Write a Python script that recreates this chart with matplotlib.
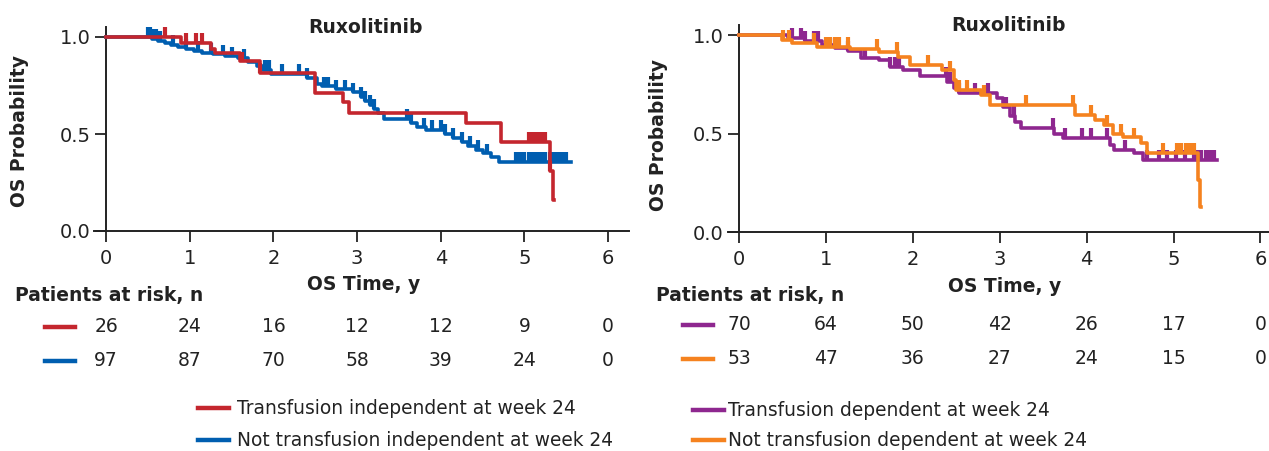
import numpy as np
import matplotlib
matplotlib.use("Agg")
import matplotlib.pyplot as plt
from matplotlib.lines import Line2D
from matplotlib import transforms

W, H = 1269, 451

RED = "#c4262e"
BLUE = "#005eb0"
PURPLE = "#8e278f"
ORANGE = "#f5821f"
INK = "#222222"

# ---- left panel: transfusion independent vs not (Kaplan-Meier steps) ----
red_t = [0, 0.90, 1.25, 1.30, 1.60, 1.84, 2.50, 2.83, 2.90, 4.30, 4.72, 5.30, 5.34]
red_s = [1.0, 0.97, 0.94, 0.915, 0.875, 0.815, 0.713, 0.667, 0.61, 0.558, 0.46, 0.31, 0.16]
red_end = 5.35
red_cens = [0.70, 0.95, 1.07, 1.15, 1.62, 1.84, 5.05, 5.10, 5.15, 5.20, 5.25, 5.30]

blue_t = [0, 0.55, 0.62, 0.70, 0.78, 0.86, 0.95, 1.05, 1.15, 1.28, 1.42, 1.58, 1.70,
          1.80, 1.88, 1.97, 2.40, 2.52, 2.58, 2.75, 2.95, 3.05, 3.10, 3.15, 3.20,
          3.25, 3.32, 3.64, 3.72, 3.82, 4.05, 4.15, 4.25, 4.33, 4.42, 4.50, 4.60, 4.70]
blue_s = [1.0, 0.99, 0.98, 0.97, 0.96, 0.95, 0.94, 0.93, 0.92, 0.91, 0.90, 0.89, 0.87,
          0.85, 0.83, 0.81, 0.79, 0.76, 0.745, 0.73, 0.715, 0.69, 0.67, 0.65, 0.63,
          0.61, 0.578, 0.555, 0.535, 0.52, 0.50, 0.48, 0.46, 0.44, 0.42, 0.40, 0.38, 0.357]
blue_end = 5.55
blue_cens = [0.50, 0.53, 0.57, 0.60, 0.65, 0.80, 0.95, 1.10, 1.25, 1.40, 1.50, 1.65,
             1.90, 1.95, 2.10, 2.30, 2.40, 2.60, 2.65, 2.75, 2.85, 2.95, 3.05, 3.10,
             3.15, 3.20, 3.60, 3.65, 3.80, 3.90, 4.00, 4.05, 4.15, 4.25, 4.35, 4.45,
             4.55, 4.90, 4.95, 5.00, 5.05, 5.10, 5.15, 5.20, 5.25, 5.30, 5.35, 5.40,
             5.45, 5.50]

# ---- right panel: transfusion dependent vs not ----
purple_t = [0, 0.56, 0.76, 0.96, 1.10, 1.25, 1.40, 1.61, 1.74, 1.89, 2.08, 2.39, 2.47,
            2.53, 2.97, 3.04, 3.12, 3.18, 3.24, 3.62, 3.73, 4.27, 4.32, 4.54, 4.65]
purple_s = [1.0, 0.985, 0.97, 0.95, 0.935, 0.92, 0.885, 0.873, 0.84, 0.82, 0.79, 0.76,
            0.73, 0.705, 0.68, 0.635, 0.59, 0.56, 0.53, 0.50, 0.477, 0.44, 0.415,
            0.40, 0.365]
purple_end = 5.50
purple_cens = [0.61, 0.71, 0.76, 0.86, 0.91, 1.10, 1.25, 1.45, 1.74, 1.79, 1.84, 2.38,
               2.43, 2.53, 2.72, 2.87, 3.07, 3.16, 3.61, 3.75, 3.95, 4.05, 4.24, 4.44,
               4.69, 4.83, 4.93, 5.03, 5.13, 5.23, 5.27, 5.32, 5.37, 5.42, 5.47]

orange_t = [0, 0.50, 0.61, 0.90, 1.28, 1.61, 1.83, 1.97, 2.34, 2.47, 2.50, 2.79, 2.89,
            3.87, 4.10, 4.20, 4.30, 4.42, 4.62, 4.70, 5.28, 5.31]
orange_s = [1.0, 0.975, 0.96, 0.94, 0.93, 0.915, 0.89, 0.85, 0.82, 0.77, 0.72, 0.695,
            0.645, 0.594, 0.57, 0.543, 0.50, 0.48, 0.45, 0.40, 0.264, 0.127]
orange_end = 5.32
orange_cens = [0.51, 0.58, 0.86, 1.00, 1.05, 1.10, 1.15, 1.25, 1.59, 1.82, 2.18, 2.43,
               2.53, 2.62, 2.82, 3.30, 3.84, 4.05, 4.24, 4.39, 4.54, 4.88, 5.04, 5.09,
               5.14, 5.19, 5.24]

# ---- numbers at risk ----
risk_years = [0, 1, 2, 3, 4, 5, 6]
risk_red = [26, 24, 16, 12, 12, 9, 0]
risk_blue = [97, 87, 70, 58, 39, 24, 0]
risk_purple = [70, 64, 50, 42, 26, 17, 0]
risk_orange = [53, 47, 36, 27, 24, 15, 0]

label_red = "Transfusion independent at week 24"
label_blue = "Not transfusion independent at week 24"
label_purple = "Transfusion dependent at week 24"
label_orange = "Not transfusion dependent at week 24"


def fx(x):
    return x / W


def fy(y):
    # pixel row (from top) -> figure fraction
    return 1 - y / H


def km(ax, times, surv, end, cens, color, z):
    t = list(times) + [end]
    s = list(surv) + [surv[-1]]
    ax.step(t, s, where="post", color=color, lw=2.6, zorder=z)
    idx = np.searchsorted(times, cens, side="right") - 1
    lv = np.asarray(surv)[idx]
    ax.vlines(cens, lv, lv + 0.05, colors=color, lw=3.0, zorder=z)


def setup(ax, xmin, xmax):
    ax.set_xlim(xmin, xmax)
    ax.set_ylim(0, 1.05)
    ax.patch.set_visible(False)
    for sp in ("top", "right"):
        ax.spines[sp].set_visible(False)
    ax.spines["left"].set_position(("data", 0))
    for sp in ("left", "bottom"):
        ax.spines[sp].set_linewidth(1.4)
        ax.spines[sp].set_color(INK)
    ax.set_xticks(risk_years)
    ax.set_yticks([0, 0.5, 1.0])
    ax.set_yticklabels(["0.0", "0.5", "1.0"])
    ax.tick_params(axis="both", direction="out", length=8, width=1.3,
                   color=INK, labelcolor=INK, labelsize=14)
    ax.tick_params(axis="x", pad=5)
    ax.tick_params(axis="y", pad=3)
    ax.text(3.1, 1.05, "Ruxolitinib", ha="center", va="center",
            fontsize=13.5, fontweight="bold", color=INK)


def risk_table(fig, ax, rows, x_line, y_title, x_title):
    tr = transforms.blended_transform_factory(ax.transData, fig.transFigure)
    fig.text(fx(x_title), fy(y_title), "OS Time, y", ha="center", va="center",
             fontsize=13.5, fontweight="bold", color=INK)
    for counts, color, yrow in rows:
        fig.add_artist(Line2D([fx(x_line), fx(x_line + 30)], [fy(yrow), fy(yrow)],
                              color=color, lw=3.2))
        for yr, n in zip(risk_years, counts):
            ax.text(yr, fy(yrow), str(n), transform=tr, ha="center", va="center",
                    fontsize=13.5, color=INK)


fig = plt.figure(figsize=(W / 100, H / 100), dpi=100)

# left panel: 0 yr at x=106px, 83.7 px/yr; S=0 at y=231, 194 px per unit
axL = fig.add_axes([fx(94.3), fy(231), fx(629.1 - 94.3), (231 - 27.3) / H])
setup(axL, -0.14, 6.25)
km(axL, blue_t, blue_s, blue_end, blue_cens, BLUE, 3)
km(axL, red_t, red_s, red_end, red_cens, RED, 4)

# right panel: 0 yr at x=739px, 86.9 px/yr; S=0 at y=232, 197 px per unit
axR = fig.add_axes([fx(727.7), fy(232), fx(1295.2 - 727.7), (232 - 25.2) / H])
setup(axR, -0.13, 6.4)
km(axR, purple_t, purple_s, purple_end, purple_cens, PURPLE, 3)
km(axR, orange_t, orange_s, orange_end, orange_cens, ORANGE, 4)

for x, y in ((20, 131), (658, 135)):
    fig.text(fx(x), fy(y), "OS Probability", rotation=90, ha="center", va="center",
             fontsize=13.5, fontweight="bold", color=INK)

fig.text(fx(15), fy(296), "Patients at risk, n", ha="left", va="center",
         fontsize=13.5, fontweight="bold", color=INK)
fig.text(fx(656), fy(295), "Patients at risk, n", ha="left", va="center",
         fontsize=13.5, fontweight="bold", color=INK)

risk_table(fig, axL, [(risk_red, RED, 327), (risk_blue, BLUE, 361)], 45, 285, 364)
risk_table(fig, axR, [(risk_purple, PURPLE, 325), (risk_orange, ORANGE, 359)],
           683, 287, 1005)

# legends below each table
for x_line, x_text, entries in (
        (198, 237, [(RED, label_red, 408), (BLUE, label_blue, 440)]),
        (693, 728, [(PURPLE, label_purple, 410), (ORANGE, label_orange, 440)])):
    for color, label, y in entries:
        fig.add_artist(Line2D([fx(x_line), fx(x_line + 31)], [fy(y), fy(y)],
                              color=color, lw=3.2))
        fig.text(fx(x_text), fy(y), label, ha="left", va="center",
                 fontsize=13.4, color=INK)

fig.savefig("out.png", dpi=100, facecolor="white")
